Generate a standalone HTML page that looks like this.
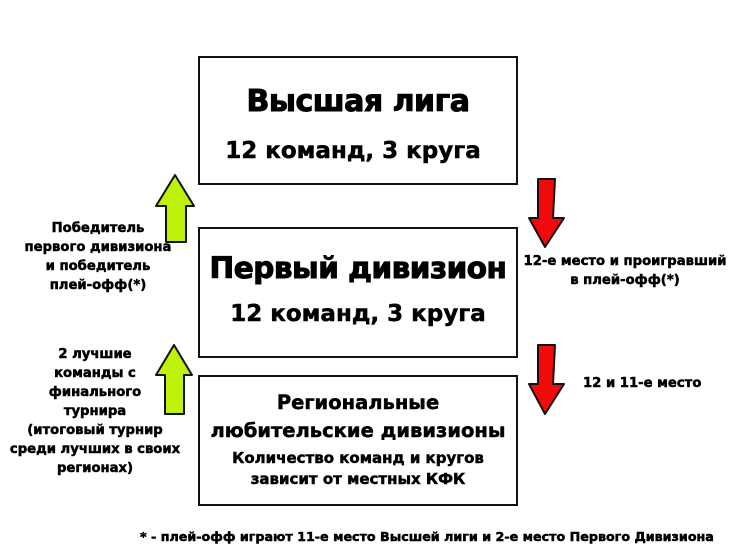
<!DOCTYPE html>
<html><head><meta charset="utf-8"><style>
body{margin:0;width:730px;height:548px;background:#fff;position:relative;overflow:hidden;font-family:"DejaVu Sans","Liberation Sans",sans-serif;font-weight:bold;color:#000;-webkit-text-stroke:0.5px #000}
.box{position:absolute;border:2.5px solid #111;box-sizing:border-box;left:198px;width:320px}
.t{position:absolute;left:0;right:0;text-align:center;white-space:nowrap}
.l{position:absolute;text-align:center;font-size:13.2px;line-height:19px;white-space:nowrap}
svg{position:absolute;left:0;top:0}
</style></head><body>
<div class="box" style="top:56px;height:129px">
<div class="t" style="top:26px;font-size:30px;letter-spacing:-0.5px;-webkit-text-stroke:1px #000">Высшая лига</div>
<div class="t" style="top:80px;font-size:23px;left:-10px">12 команд, 3 круга</div>
</div>
<div class="box" style="top:227px;height:131px">
<div class="t" style="top:22px;font-size:29.5px;letter-spacing:-0.5px;-webkit-text-stroke:1px #000">Первый дивизион</div>
<div class="t" style="top:72px;font-size:23px">12 команд, 3 круга</div>
</div>
<div class="box" style="top:375px;height:131px">
<div class="t" style="top:12px;font-size:19.5px;line-height:28px">Региональные<br>любительские дивизионы</div>
<div class="t" style="top:71px;font-size:15px;line-height:21px">Количество команд и кругов<br>зависит от местных КФК</div>
</div>
<svg width="730" height="548">
<g stroke="#111" stroke-width="2" stroke-linejoin="round">
<polygon fill="#bff20a" points="175,175 156,206 166,206 166,242 186,242 186,206 194,206"/>
<polygon fill="#bff20a" points="174,345 156,375 165,375 165,414 184,414 184,375 192,375"/>
<polygon fill="#f20a0a" points="538,179 555,179 553,218 564,218 545,247 529,218 538,218"/>
<polygon fill="#f20a0a" points="538,345 555,345 553,384 564,384 545,414 529,384 538,384"/>
</g></svg>
<div class="l" style="left:17px;top:219px;width:162px">Победитель<br>первого дивизиона<br>и победитель<br>плей-офф(*)</div>
<div class="l" style="left:5px;top:345px;width:180px">2 лучшие<br>команды с<br>финального<br>турнира<br>(итоговый турнир<br>среди лучших в своих<br>регионах)</div>
<div class="l" style="left:518px;top:252px;width:214px">12-е место и проигравший<br>в плей-офф(*)</div>
<div class="l" style="left:583px;top:374px">12 и 11-е место</div>
<div class="l" style="left:140px;top:527px;font-size:12.7px">* - плей-офф играют 11-е место Высшей лиги и 2-е место Первого Дивизиона</div>
</body></html>
